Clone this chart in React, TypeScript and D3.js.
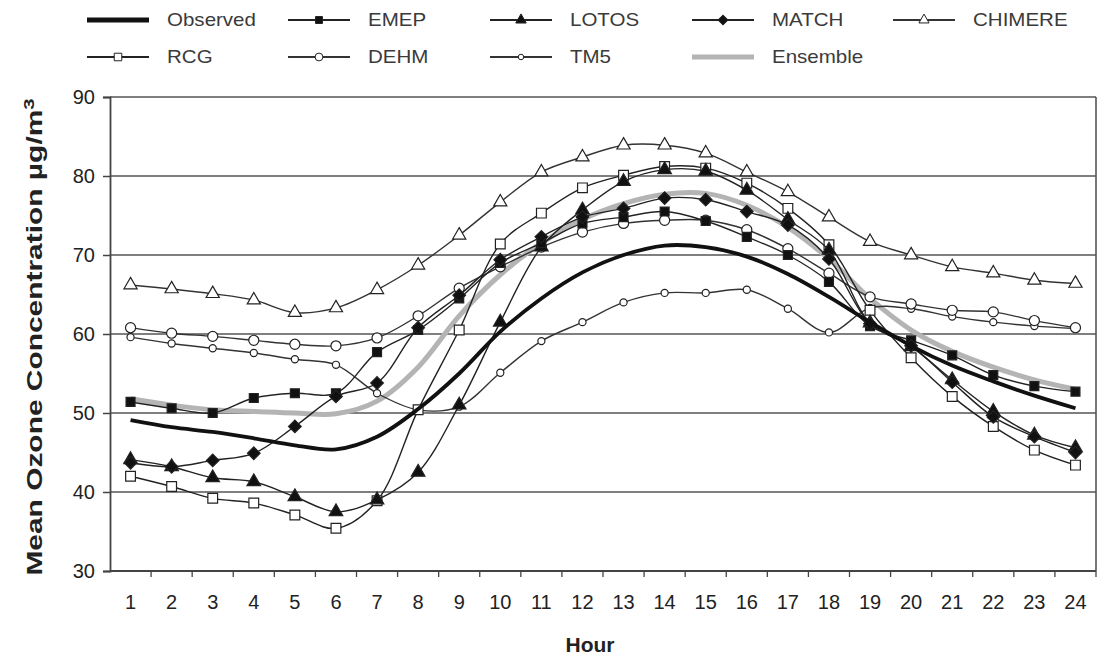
import { useEffect, useRef } from 'react';
import * as d3 from 'd3';

// hours on the x axis
const hours = [1, 2, 3, 4, 5, 6, 7, 8, 9, 10, 11, 12, 13, 14, 15, 16, 17, 18, 19, 20, 21, 22, 23, 24];
const yTicks = [30, 40, 50, 60, 70, 80, 90];

const observed = [49.1, 48.2, 47.6, 46.8, 45.9, 45.4, 47.0, 50.5, 55.0, 60.3, 64.5, 67.8, 70.0, 71.2, 71.0, 69.8, 67.6, 64.7, 61.5, 58.5, 56.0, 54.0, 52.2, 50.6];
const emep = [51.4, 50.6, 50.0, 51.9, 52.5, 52.5, 57.7, 60.5, 64.5, 69.0, 71.5, 74.0, 74.8, 75.5, 74.3, 72.3, 70.0, 66.6, 61.0, 59.2, 57.3, 54.8, 53.4, 52.7];
const lotos = [44.1, 43.2, 41.8, 41.3, 39.4, 37.5, 39.0, 42.5, 51.0, 61.5, 71.0, 75.7, 79.3, 80.8, 80.6, 78.2, 74.5, 70.6, 61.4, 58.4, 54.2, 50.2, 47.2, 45.6];
const match = [43.7, 43.2, 44.0, 44.9, 48.3, 52.1, 53.8, 60.8, 64.9, 69.4, 72.3, 74.8, 75.9, 77.2, 77.0, 75.5, 73.8, 69.5, 61.3, 58.5, 53.9, 49.5, 47.0, 45.0];
const chimere = [66.2, 65.7, 65.1, 64.3, 62.7, 63.3, 65.6, 68.7, 72.5, 76.7, 80.5, 82.4, 83.9, 83.9, 82.9, 80.5, 78.0, 74.8, 71.7, 70.0, 68.5, 67.7, 66.8, 66.4];
const rcg = [42.0, 40.7, 39.2, 38.6, 37.1, 35.4, 38.9, 50.4, 60.5, 71.4, 75.3, 78.5, 80.1, 81.2, 81.0, 79.1, 75.9, 71.3, 63.0, 57.0, 52.1, 48.3, 45.3, 43.4];
const dehm = [60.8, 60.1, 59.7, 59.2, 58.7, 58.5, 59.5, 62.3, 65.8, 68.5, 71.0, 72.9, 74.0, 74.4, 74.4, 73.2, 70.8, 67.7, 64.7, 63.8, 63.0, 62.8, 61.7, 60.8];
const tm5 = [59.6, 58.8, 58.2, 57.6, 56.8, 56.1, 52.5, 50.4, 50.8, 55.1, 59.1, 61.5, 64.0, 65.2, 65.2, 65.6, 63.2, 60.2, 63.3, 63.2, 62.2, 61.5, 61.0, 60.7];
const ensemble = [51.8, 51.0, 50.4, 50.2, 50.0, 49.9, 51.5, 55.8, 62.3, 67.5, 71.5, 74.5, 76.5, 77.7, 77.8, 76.3, 73.5, 69.5, 64.5, 60.5, 57.8, 55.8, 54.2, 53.0];

type Marker = 'none' | 'square' | 'triangle' | 'diamond' | 'circle';

interface Series {
  name: string;
  values: number[];
  color: string;
  width: number;
  marker: Marker;
  fill: string;
  size: number;
}

const series: Series[] = [
  { name: 'Ensemble', values: ensemble, color: '#b4b4b4', width: 5, marker: 'none', fill: 'none', size: 0 },
  { name: 'CHIMERE', values: chimere, color: '#333', width: 1.4, marker: 'triangle', fill: '#fff', size: 75 },
  { name: 'TM5', values: tm5, color: '#333', width: 1.4, marker: 'circle', fill: '#fff', size: 40 },
  { name: 'DEHM', values: dehm, color: '#333', width: 1.4, marker: 'circle', fill: '#fff', size: 80 },
  { name: 'RCG', values: rcg, color: '#222', width: 1.4, marker: 'square', fill: '#fff', size: 95 },
  { name: 'LOTOS', values: lotos, color: '#222', width: 1.4, marker: 'triangle', fill: '#111', size: 80 },
  { name: 'EMEP', values: emep, color: '#222', width: 1.4, marker: 'square', fill: '#111', size: 80 },
  { name: 'MATCH', values: match, color: '#222', width: 1.4, marker: 'diamond', fill: '#111', size: 80 },
  { name: 'Observed', values: observed, color: '#111', width: 3.8, marker: 'none', fill: 'none', size: 0 },
];

// legend rows as in the picture
const legendRows = [
  ['Observed', 'EMEP', 'LOTOS', 'MATCH', 'CHIMERE'],
  ['RCG', 'DEHM', 'TM5', 'Ensemble'],
];

const FONT = 'Liberation Sans, Arial, Helvetica, sans-serif';

function symbolPath(marker: Marker, size: number) {
  if (marker === 'square') return d3.symbol(d3.symbolSquare, size)()!;
  if (marker === 'triangle') return d3.symbol(d3.symbolTriangle, size)()!;
  if (marker === 'circle') return d3.symbol(d3.symbolCircle, size)()!;
  if (marker === 'diamond') return d3.symbol(d3.symbolSquare, size)()!;
  return '';
}

export default function App() {
  const svgRef = useRef<SVGSVGElement>(null);

  useEffect(() => {
    if (!svgRef.current) return;
    const width = 1098;
    const height = 657;
    const margin = { top: 97, right: 2, bottom: 86, left: 110 };

    const svg = d3.select(svgRef.current);
    svg.selectAll('*').remove();

    const x = d3.scaleBand<number>()
      .domain(hours)
      .range([margin.left, width - margin.right]);
    const cx = (h: number) => (x(h) as number) + x.bandwidth() / 2;

    const y = d3.scaleLinear()
      .domain([30, 90])
      .range([height - margin.bottom, margin.top]);

    // gridlines
    svg.append('g')
      .selectAll('line')
      .data(yTicks.filter(t => t > 30))
      .join('line')
      .attr('x1', margin.left)
      .attr('x2', width - margin.right)
      .attr('y1', d => y(d))
      .attr('y2', d => y(d))
      .attr('stroke', '#555')
      .attr('stroke-width', 1.6);

    // right border
    svg.append('line')
      .attr('x1', width - margin.right).attr('x2', width - margin.right)
      .attr('y1', y(90)).attr('y2', y(30))
      .attr('stroke', '#555').attr('stroke-width', 1.6);

    // y axis
    const yAxis = svg.append('g')
      .attr('transform', `translate(${margin.left},0)`)
      .call(d3.axisLeft(y).tickValues(yTicks).tickSize(7).tickPadding(8));
    yAxis.select('.domain').attr('stroke', '#444').attr('stroke-width', 1.8);
    yAxis.selectAll('.tick line').attr('stroke', '#444').attr('stroke-width', 1.5);
    yAxis.selectAll('.tick text')
      .attr('font-family', FONT).attr('font-size', 20).attr('fill', '#222');

    // x axis: ticks between categories
    const xAxisG = svg.append('g');
    xAxisG.append('line')
      .attr('x1', margin.left).attr('x2', width - margin.right)
      .attr('y1', y(30)).attr('y2', y(30))
      .attr('stroke', '#444').attr('stroke-width', 1.8);
    xAxisG.selectAll('line.tk')
      .data(hours)
      .join('line')
      .attr('class', 'tk')
      .attr('x1', d => (x(d) as number) + x.bandwidth())
      .attr('x2', d => (x(d) as number) + x.bandwidth())
      .attr('y1', y(30))
      .attr('y2', y(30) + 6)
      .attr('stroke', '#444').attr('stroke-width', 1.3);
    xAxisG.selectAll('text')
      .data(hours)
      .join('text')
      .attr('x', d => cx(d))
      .attr('y', y(30) + 38)
      .attr('text-anchor', 'middle')
      .attr('font-family', FONT).attr('font-size', 20).attr('fill', '#222')
      .text(d => d);

    // axis titles
    svg.append('text')
      .attr('x', 590).attr('y', 652)
      .attr('text-anchor', 'middle')
      .attr('font-family', FONT).attr('font-size', 21).attr('font-weight', 'bold').attr('fill', '#222')
      .text('Hour');

    const yt = svg.append('text')
      .attr('transform', `translate(42,${(y(30) + y(90)) / 2 + 3}) rotate(-90) scale(1.36,1)`)
      .attr('text-anchor', 'middle')
      .attr('font-family', FONT).attr('font-size', 22).attr('font-weight', 'bold').attr('fill', '#222');
    yt.append('tspan').text('Mean Ozone Concentration µg/m');
    yt.append('tspan').attr('dy', -8).attr('font-size', 15).text('3');

    // series
    const line = d3.line<number>()
      .x((_, i) => cx(hours[i]))
      .y(d => y(d))
      .curve(d3.curveCatmullRom.alpha(0.5));

    const plot = svg.append('g');
    series.forEach(s => {
      plot.append('path')
        .attr('d', line(s.values))
        .attr('fill', 'none')
        .attr('stroke', s.color)
        .attr('stroke-width', s.width)
        .attr('stroke-linejoin', 'round');
      if (s.marker !== 'none') {
        plot.append('g')
          .selectAll('path')
          .data(s.values)
          .join('path')
          .attr('d', symbolPath(s.marker, s.size))
          .attr('transform', (d, i) => `translate(${cx(hours[i])},${y(d)})${s.marker === 'diamond' ? ' rotate(45)' : ''}`)
          .attr('fill', s.fill)
          .attr('stroke', '#222')
          .attr('stroke-width', 1.2);
      }
    });

    // legend
    const colX = [87, 288, 490, 692, 893];
    const rowY = [20, 57];
    const legend = svg.append('g');
    legendRows.forEach((row, ri) => {
      row.forEach((name, ci) => {
        const s = series.find(d => d.name === name)!;
        const x0 = colX[ci];
        const y0 = rowY[ri];
        const g = legend.append('g');
        g.append('line')
          .attr('x1', x0).attr('x2', x0 + 62)
          .attr('y1', y0).attr('y2', y0)
          .attr('stroke', s.color)
          .attr('stroke-width', s.marker === 'none' ? 5 : 2.2);
        if (s.marker !== 'none') {
          g.append('path')
            .attr('d', symbolPath(s.marker, s.size * 0.6))
            .attr('transform', `translate(${x0 + 31},${y0})${s.marker === 'diamond' ? ' rotate(45)' : ''}`)
            .attr('fill', s.fill)
            .attr('stroke', '#222')
            .attr('stroke-width', 1);
        }
        g.append('text')
          .attr('transform', `translate(${x0 + 80},${y0 + 6}) scale(1.14,1)`)
          .attr('font-family', FONT).attr('font-size', 18).attr('fill', '#3a3a3a')
          .text(name);
      });
    });
  }, []);

  return (
    <svg
      ref={svgRef}
      width={1098}
      height={657}
      style={{ position: 'absolute', left: 0, top: 0, background: '#fff' }}
    />
  );
}
